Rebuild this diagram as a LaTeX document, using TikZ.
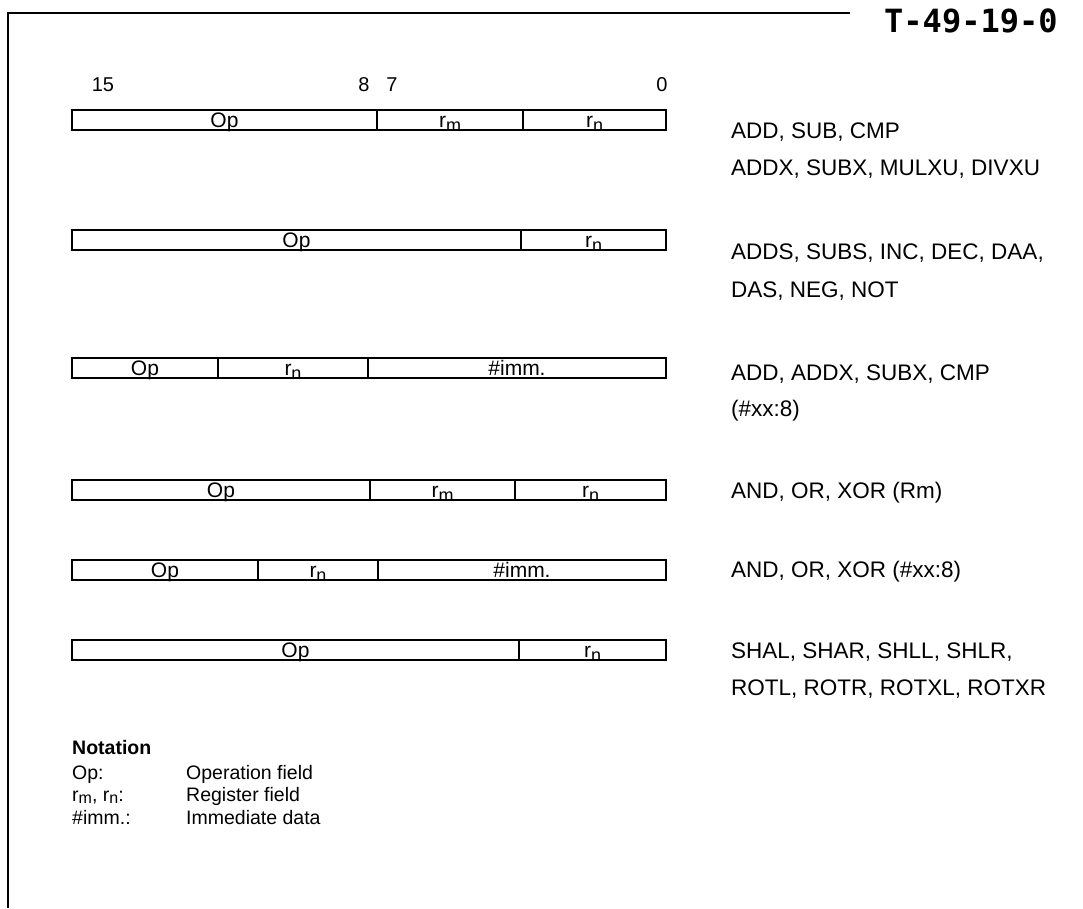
\documentclass[tikz,border=0pt]{standalone}
\usepackage{fontspec}
\setmainfont{Liberation Sans}
\newfontfamily\stampfont{DejaVu Sans Mono}
\newcommand{\rsb}[1]{r\raisebox{-0.38ex}{\fontsize{18}{18}\selectfont #1}}
\newcommand{\nrsb}[1]{r\raisebox{-0.25ex}{\fontsize{16}{16}\selectfont #1}}
\begin{document}
\begin{tikzpicture}[x=1pt,y=-1pt,
  field/.style={draw,line width=1.6pt,rectangle,inner sep=0pt,minimum height=20pt,
    font=\fontsize{21}{21}\selectfont,text depth=0pt,text height=14pt},
  bitnum/.style={font=\fontsize{20}{20}\selectfont},
  instr/.style={anchor=base west,inner sep=0pt,font=\fontsize{22.5}{22.5}\selectfont},
  note/.style={anchor=base west,inner sep=0pt,font=\fontsize{19.5}{19.5}\selectfont},
  frameline/.style={line width=1.6pt}]
\useasboundingbox (0,0) rectangle (1083,908);
% frame
\coordinate (fb) at (8,908);
\coordinate (fc) at (8,13);
\coordinate (fe) at (850,13);
\draw[frameline] (fb) -- (fc) -- (fe);
\node[anchor=west,inner sep=0pt,font=\stampfont\bfseries\fontsize{32}{32}\selectfont] (stamp) at (884,21) {T-49-19-0};
% bit numbers
\node[bitnum] (b15) at (103,85) {15};
\node[bitnum] (b8) at (364,85) {8};
\node[bitnum] (b7) at (392,85) {7};
\node[bitnum] (b0) at (662,85) {0};
% row 1
\node[field,minimum width=305pt] (r1op) at (224.5,120) {Op};
\node[field,minimum width=146pt] (r1rm) at (450,120) {\rsb{m}};
\node[field,minimum width=143pt] (r1rn) at (594.5,120) {\rsb{n}};
% row 2
\node[field,minimum width=449pt] (r2op) at (296.5,240) {Op};
\node[field,minimum width=145pt] (r2rn) at (593.5,240) {\rsb{n}};
% row 3
\node[field,minimum width=146pt] (r3op) at (145,368) {Op};
\node[field,minimum width=150pt] (r3rn) at (293,368) {\rsb{n}};
\node[field,minimum width=298pt] (r3im) at (517,368) {\#imm.};
% row 4
\node[field,minimum width=298pt] (r4op) at (221,490) {Op};
\node[field,minimum width=145pt] (r4rm) at (442.5,490) {\rsb{m}};
\node[field,minimum width=151pt] (r4rn) at (590.5,490) {\rsb{n}};
% row 5
\node[field,minimum width=186pt] (r5op) at (165,570) {Op};
\node[field,minimum width=120pt] (r5rn) at (318,570) {\rsb{n}};
\node[field,minimum width=288pt] (r5im) at (522,570) {\#imm.};
% row 6
\node[field,minimum width=447pt] (r6op) at (295.5,650) {Op};
\node[field,minimum width=147pt] (r6rn) at (592.5,650) {\rsb{n}};
% instruction labels
\node[instr] (i1a) at (731,138) {ADD, SUB, CMP};
\node[instr] (i1b) at (731,175) {ADDX, SUBX, MULXU, DIVXU};
\node[instr] (i2a) at (731,259) {ADDS, SUBS, INC, DEC, DAA,};
\node[instr] (i2b) at (731,297) {DAS, NEG, NOT};
\node[instr] (i3a) at (731,380) {ADD, ADDX, SUBX, CMP};
\node[instr] (i3b) at (731,416) {(\#xx:8)};
\node[instr] (i4a) at (731,498) {AND, OR, XOR (Rm)};
\node[instr] (i5a) at (731,577) {AND, OR, XOR (\#xx:8)};
\node[instr] (i6a) at (731,658) {SHAL, SHAR, SHLL, SHLR,};
\node[instr] (i6b) at (731,695) {ROTL, ROTR, ROTXL, ROTXR};
% notation
\node[note,font=\bfseries\fontsize{19.5}{19.5}\selectfont] (nt) at (72,754) {Notation};
\node[note] (n1a) at (72,779) {Op:};
\node[note] (n1b) at (186,779) {Operation field};
\node[note] (n2a) at (72,801) {\nrsb{m}, \nrsb{n}:};
\node[note] (n2b) at (186,801) {Register field};
\node[note] (n3a) at (72,824) {\#imm.:};
\node[note] (n3b) at (186,824) {Immediate data};
\end{tikzpicture}
\end{document}
